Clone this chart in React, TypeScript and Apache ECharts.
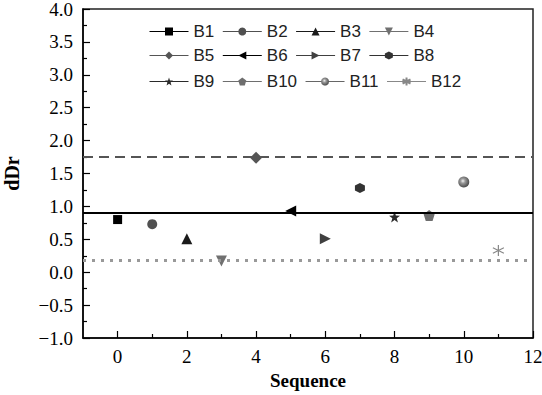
import React, { useEffect, useRef } from "react";
import * as echarts from "echarts";

const seriesNames = ["B1", "B2", "B3", "B4", "B5", "B6", "B7", "B8", "B9", "B10", "B11", "B12"];
const sequence = [0, 1, 2, 3, 4, 5, 6, 7, 8, 9, 10, 11];
const dDrValues = [0.8, 0.73, 0.51, 0.17, 1.74, 0.93, 0.51, 1.28, 0.84, 0.86, 1.37, 0.33];
const upperLine = 1.75;
const meanLine = 0.9;
const lowerLine = 0.18;
const xMajorTicks = [0, 2, 4, 6, 8, 10, 12];
const xMinorTicks = [1, 3, 5, 7, 9, 11];

const STAR = "path://M5,0 L6.176,3.382 L9.755,3.455 L6.902,5.618 L7.939,9.045 L5,7 L2.061,9.045 L3.098,5.618 L0.245,3.455 L3.824,3.382 Z";
const PENTA = "path://M5,0 L9.755,3.455 L7.939,9.045 L2.061,9.045 L0.245,3.455 Z";
const HEXA = "path://M5,0 L9.33,2.5 L9.33,7.5 L5,10 L0.67,7.5 L0.67,2.5 Z";
const DOWN = "path://M0,0 L10,0 L5,9 Z";
const LEFT = "path://M0,5 L9,0 L9,10 Z";
const RIGHT = "path://M0,0 L9,5 L0,10 Z";
const AST = "path://M5,0 L5,10 M0.67,2.5 L9.33,7.5 M0.67,7.5 L9.33,2.5";

const styles = [
  { symbol: "rect", size: 9, color: "#000000" },
  { symbol: "circle", size: 10, color: "#505050" },
  { symbol: "triangle", size: 11, color: "#1a1a1a" },
  { symbol: DOWN, size: 11, color: "#707070" },
  { symbol: "diamond", size: 12, color: "#555555" },
  { symbol: LEFT, size: 11, color: "#000000" },
  { symbol: RIGHT, size: 11, color: "#404040" },
  { symbol: HEXA, size: 10, color: "#333333" },
  { symbol: STAR, size: 11, color: "#2a2a2a" },
  { symbol: PENTA, size: 11, color: "#6e6e6e" },
  { symbol: "circle", size: 11, color: "sphere" },
  { symbol: AST, size: 11, color: "#888888" },
];

export default function App() {
  const ref = useRef<HTMLDivElement>(null);
  useEffect(() => {
    if (!ref.current) return;
    const chart = echarts.init(ref.current, null, { renderer: "svg" });
    const serif = "Liberation Serif";
    const sans = "Liberation Sans";

    const series: any[] = seriesNames.map((name, i) => {
      const st = styles[i];
      const isSphere = st.color === "sphere";
      const fill = isSphere
        ? new echarts.graphic.RadialGradient(0.42, 0.4, 0.6, [
            { offset: 0, color: "#f2f2f2" },
            { offset: 0.35, color: "#9a9a9a" },
            { offset: 1, color: "#4a4a4a" },
          ])
        : st.color;
      const lineColor = isSphere ? "#666666" : st.color;
      return {
        name,
        type: "line",
        data: [[sequence[i], dDrValues[i]]],
        symbol: st.symbol,
        symbolSize: st.size,
        showSymbol: true,
        lineStyle: { width: 1, color: lineColor },
        itemStyle:
          i === 11
            ? { color: st.color, borderColor: st.color, borderWidth: 1.2 }
            : { color: fill, borderWidth: 0 },
        z: 3,
      };
    });

    series.push({
      name: "ref",
      type: "line",
      data: [],
      silent: true,
      markLine: {
        silent: true,
        symbol: ["none", "none"],
        label: { show: false },
        data: [
          { yAxis: upperLine, lineStyle: { color: "#555555", width: 2, type: [10, 6] } },
          { yAxis: meanLine, lineStyle: { color: "#000000", width: 2, type: "solid" } },
          { yAxis: lowerLine, lineStyle: { color: "#999999", width: 3, type: [3, 6] } },
        ],
      },
      z: 2,
    });

    const legendBase = {
      left: 149,
      orient: "horizontal",
      itemWidth: 39,
      itemHeight: 10,
      itemGap: 8,
      padding: 0,
      lineStyle: { width: 1 },
      textStyle: { fontFamily: sans, fontSize: 17, color: "#222222" },
    };

    chart.setOption({
      animation: false,
      backgroundColor: "#ffffff",
      grid: {
        left: 83,
        right: 9,
        top: 9,
        bottom: 57,
        show: true,
        borderColor: "#222222",
        borderWidth: 1.5,
        containLabel: false,
        outerBoundsMode: "none",
      },
      legend: [
        { ...legendBase, top: 23, data: seriesNames.slice(0, 4) },
        { ...legendBase, top: 47, data: seriesNames.slice(4, 8) },
        { ...legendBase, top: 73, data: seriesNames.slice(8, 12) },
      ],
      xAxis: [
        {
          type: "value",
          min: -1,
          max: 12,
          position: "bottom",
          name: "Sequence",
          nameLocation: "middle",
          nameGap: 30,
          nameTextStyle: { fontFamily: serif, fontSize: 19, fontWeight: "bold", color: "#000" },
          axisLine: { show: true, onZero: false, lineStyle: { color: "#000", width: 1.5 } },
          axisTick: { show: true, inside: true, length: 7, customValues: xMajorTicks, lineStyle: { color: "#000", width: 1.2 } },
          axisLabel: { show: true, customValues: xMajorTicks, margin: 9, fontFamily: serif, fontSize: 19, color: "#000" },
          splitLine: { show: false },
        },
        {
          type: "value",
          min: -1,
          max: 12,
          position: "bottom",
          axisLine: { show: false, onZero: false },
          axisTick: { show: true, inside: true, length: 4, customValues: xMinorTicks, lineStyle: { color: "#000", width: 1.2 } },
          axisLabel: { show: false },
          splitLine: { show: false },
        },
      ],
      yAxis: {
        type: "value",
        min: -1,
        max: 4,
        interval: 0.5,
        name: "dDr",
        nameLocation: "middle",
        nameGap: 61,
        nameTextStyle: { fontFamily: serif, fontSize: 20, fontWeight: "bold", color: "#000" },
        axisLine: { show: true, onZero: false, lineStyle: { color: "#000", width: 1.5 } },
        axisTick: { show: true, inside: true, length: 7, lineStyle: { color: "#000", width: 1.2 } },
        minorTick: { show: true, splitNumber: 2, length: 4, lineStyle: { color: "#000", width: 1.2 } },
        axisLabel: {
          margin: 10,
          fontFamily: serif,
          fontSize: 19,
          color: "#000",
          formatter: (v: number) => (v < 0 ? "\u2212" : "") + Math.abs(v).toFixed(1),
        },
        splitLine: { show: false },
      },
      series,
    });
    return () => chart.dispose();
  }, []);
  return (
    <div
      ref={ref}
      style={{ position: "fixed", left: 0, top: 0, width: 542, height: 395 }}
    />
  );
}
